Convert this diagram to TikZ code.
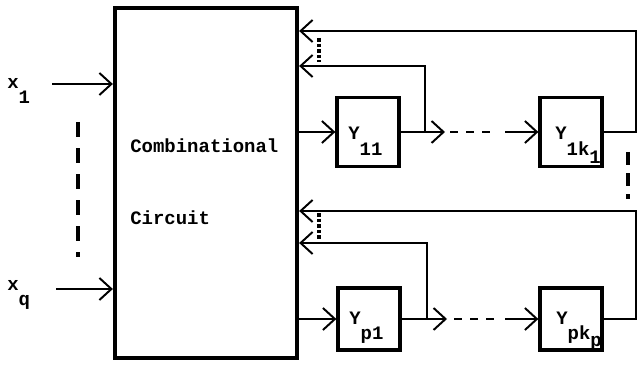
\documentclass[tikz,border=0pt]{standalone}
\usepackage{fontspec}
\setmonofont{Liberation Mono}
\usetikzlibrary{arrows.meta,positioning}

\begin{document}
\begin{tikzpicture}[x=0.025cm,y=-0.025cm,
  font=\ttfamily\bfseries\fontsize{13.5}{16}\selectfont,
  comb/.style={draw,line width=3pt,minimum width=4.55cm,minimum height=8.75cm,inner sep=0pt},
  latch/.style={draw,line width=2.3pt,minimum width=1.55cm,inner sep=0pt},
  lbl/.style={anchor=base west,inner sep=0pt},
  sig/.style={line width=1.4pt},
  fb/.style={line width=1.1pt},
  arr/.style={-{Straight Barb[length=3mm,width=5.5mm,line width=1.4pt]}},
  gap/.style={line width=2.3pt,dash pattern=on 0.37cm off 0.28cm},
  dots/.style={line width=2.3pt,dash pattern=on 2.5pt off 1.5pt},
]
\useasboundingbox (0,0) rectangle (638,365);
% combinational part
\node[comb] (comb) at (206,183) {};
\node[lbl] (txtcomb) at (130,153) {Combinational};
\node[lbl] (txtcirc) at (130,225) {Circuit};
% inputs
\coordinate (in1) at (52,84);
\coordinate (inq) at (56,289);
\draw[sig,arr] (in1) -- (in1 -| comb.west);
\draw[sig,arr] (inq) -- (inq -| comb.west);
\node[lbl] (lx1) at (7,89) {x\raisebox{-0.75em}{1}};
\node[lbl] (lxq) at (7,291) {x\raisebox{-0.75em}{q}};
\coordinate (gt) at (78,122);
\coordinate (gb) at (78,257);
\draw[gap] (gt) -- (gb);
% first chain
\node[latch,minimum height=1.725cm] (y11) at (368,132) {};
\node[latch,minimum height=1.725cm] (y1k) at (571,132) {};
\node[lbl] (ly11) at (348,140) {Y\raisebox{-0.8em}{11}};
\node[lbl] (ly1k) at (555,140) {Y\raisebox{-0.8em}{1k\raisebox{-0.45em}{1}}};
\coordinate (o11) at (445,132);
\coordinate (d11) at (450,132);
\coordinate (e11) at (492,132);
\coordinate (i1k) at (505,132);
\coordinate (t11) at (425,66);
\coordinate (r1) at (636,31);
\draw[sig,arr] (comb.east |- y11) -- (y11.west);
\draw[sig,arr] (y11.east) -- (o11);
\draw[sig,dash pattern=on 0.2cm off 0.2cm] (d11) -- (e11);
\draw[sig,arr] (i1k) -- (y1k.west);
\draw[fb,arr] (y11.east -| t11) -- (t11) -- (comb.east |- t11);
\draw[fb,arr] (y1k.east) -| (r1) -- (comb.east |- r1);
\coordinate (u1) at (319,38);
\coordinate (v1) at (319,62);
\draw[dots] (u1) -- (v1);
\coordinate (ga) at (628,152);
\coordinate (gc) at (628,199);
\draw[gap,dash pattern=on 0.33cm off 0.2cm] (ga) -- (gc);
% last chain
\node[latch,minimum height=1.55cm] (yp1) at (369,319) {};
\node[latch,minimum height=1.55cm] (ypk) at (571,319) {};
\node[lbl] (lyp1) at (349,325) {Y\raisebox{-0.75em}{p1}};
\node[lbl] (lypk) at (556,325) {Y\raisebox{-0.75em}{pk\raisebox{-0.4em}{p}}};
\coordinate (op1) at (447,319);
\coordinate (dp1) at (454,319);
\coordinate (ep1) at (494,319);
\coordinate (ipk) at (505,319);
\coordinate (tp1) at (427,243);
\coordinate (rp) at (636,211);
\draw[sig,arr] (comb.east |- yp1) -- (yp1.west);
\draw[sig,arr] (yp1.east) -- (op1);
\draw[sig,dash pattern=on 0.2cm off 0.2cm] (dp1) -- (ep1);
\draw[sig,arr] (ipk) -- (ypk.west);
\draw[fb,arr] (yp1.east -| tp1) -- (tp1) -- (comb.east |- tp1);
\draw[fb,arr] (ypk.east) -| (rp) -- (comb.east |- rp);
\coordinate (up) at (319,213);
\coordinate (vp) at (319,241);
\draw[dots] (up) -- (vp);
\end{tikzpicture}
\end{document}
